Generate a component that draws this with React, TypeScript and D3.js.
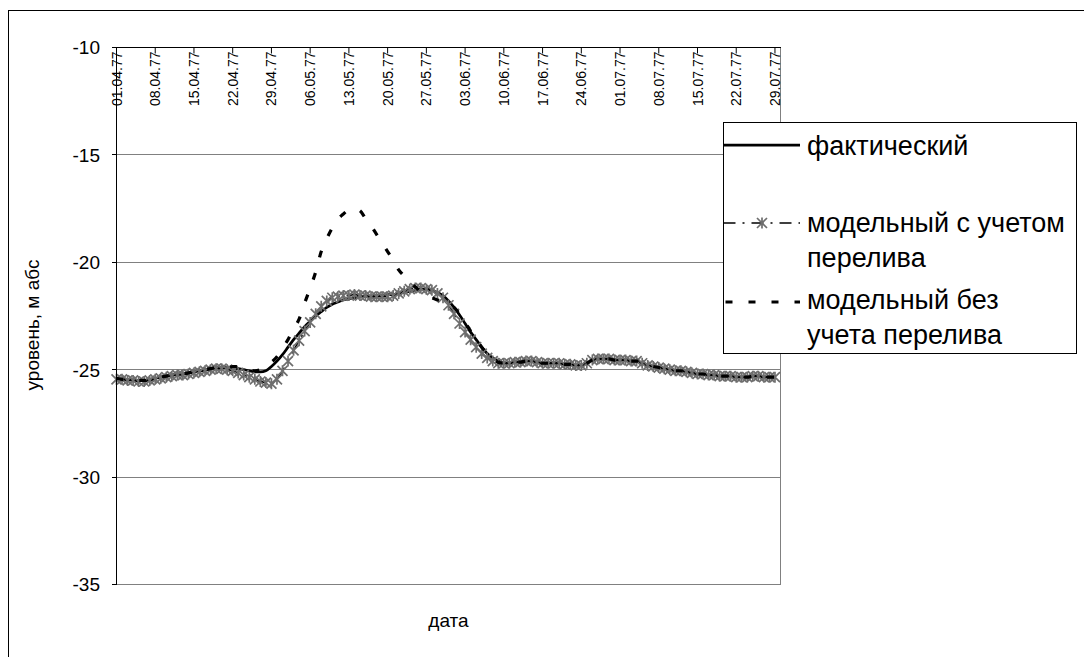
import React from "react";
import * as d3 from "d3";

// Weekly category labels along the top axis (daily data from 01.04.77)
const tickLabels = [
  "01.04.77", "08.04.77", "15.04.77", "22.04.77", "29.04.77", "06.05.77",
  "13.05.77", "20.05.77", "27.05.77", "03.06.77", "10.06.77", "17.06.77",
  "24.06.77", "01.07.77", "08.07.77", "15.07.77", "22.07.77", "29.07.77",
];

const yTicks = [-10, -15, -20, -25, -30, -35];

// фактический — daily level, m abs
const actual = [
  -25.4, -25.45, -25.45, -25.5, -25.5, -25.5, -25.45, -25.4, -25.35, -25.3,
  -25.25, -25.2, -25.2, -25.15, -25.1, -25.05, -25.0, -24.95, -24.9, -24.9,
  -24.9, -24.95, -24.95, -25.0, -25.05, -25.1, -25.1, -25.05, -24.85, -24.6,
  -24.3, -23.95, -23.6, -23.3, -23.0, -22.75, -22.5, -22.3, -22.1, -21.95,
  -21.85, -21.75, -21.7, -21.65, -21.6, -21.6, -21.6, -21.55, -21.55, -21.5,
  -21.5, -21.45, -21.4, -21.35, -21.3, -21.25, -21.25, -21.3, -21.4, -21.55,
  -21.8, -22.1, -22.45, -22.85, -23.25, -23.6, -23.95, -24.25, -24.45, -24.6,
  -24.7, -24.7, -24.65, -24.65, -24.6, -24.6, -24.65, -24.7, -24.7, -24.7,
  -24.7, -24.75, -24.75, -24.8, -24.8, -24.7, -24.55, -24.5, -24.5, -24.5,
  -24.55, -24.55, -24.55, -24.6, -24.6, -24.7, -24.8, -24.85, -24.9, -24.95,
  -25.0, -25.05, -25.05, -25.1, -25.15, -25.2, -25.2, -25.25, -25.25, -25.3,
  -25.3, -25.3, -25.35, -25.35, -25.35, -25.3, -25.3, -25.35, -25.35, -25.35,
];

// модельный с учетом перелива
const modelWithOverflow = [
  -25.45, -25.45, -25.5, -25.5, -25.55, -25.55, -25.5, -25.45, -25.4, -25.35,
  -25.3, -25.25, -25.25, -25.2, -25.15, -25.1, -25.05, -25.0, -24.95, -24.95,
  -25.0, -25.05, -25.15, -25.25, -25.35, -25.45, -25.55, -25.6, -25.65, -25.45,
  -25.05, -24.6, -24.1, -23.65, -23.2, -22.8, -22.4, -22.05, -21.8, -21.65,
  -21.6, -21.55, -21.55, -21.5, -21.55, -21.55, -21.6, -21.6, -21.6, -21.6,
  -21.55, -21.45, -21.35, -21.25, -21.2, -21.2, -21.25, -21.3, -21.45, -21.65,
  -22.0, -22.4, -22.85, -23.25, -23.6, -23.95, -24.25, -24.45, -24.6, -24.7,
  -24.7, -24.7, -24.65, -24.65, -24.6, -24.6, -24.65, -24.7, -24.7, -24.7,
  -24.7, -24.75, -24.75, -24.8, -24.8, -24.7, -24.55, -24.5, -24.5, -24.5,
  -24.55, -24.55, -24.55, -24.6, -24.6, -24.7, -24.8, -24.85, -24.9, -24.95,
  -25.0, -25.05, -25.05, -25.1, -25.15, -25.2, -25.2, -25.25, -25.25, -25.3,
  -25.3, -25.3, -25.35, -25.35, -25.35, -25.3, -25.3, -25.35, -25.35, -25.35,
];

// модельный без учета перелива
const modelWithoutOverflow = [
  -25.4, -25.45, -25.45, -25.5, -25.5, -25.5, -25.45, -25.4, -25.35, -25.3,
  -25.25, -25.2, -25.2, -25.15, -25.1, -25.05, -25.0, -24.95, -24.9, -24.9,
  -24.9, -24.85, -24.85, -24.9, -25.0, -25.05, -25.0, -24.85, -24.65, -24.4,
  -24.0, -23.6, -23.1, -22.65, -21.9, -21.2, -20.45, -19.5, -18.9, -18.4,
  -18.0, -17.75, -17.55, -17.5, -17.6, -17.95, -18.3, -18.7, -19.1, -19.5,
  -19.9, -20.35, -20.65, -20.95, -21.15, -21.35, -21.5, -21.65, -21.75, -21.85,
  -21.95, -22.1, -22.4, -22.8, -23.2, -23.6, -23.95, -24.25, -24.5, -24.65,
  -24.7, -24.7, -24.65, -24.65, -24.6, -24.6, -24.65, -24.7, -24.7, -24.7,
  -24.7, -24.75, -24.75, -24.8, -24.8, -24.7, -24.55, -24.5, -24.5, -24.5,
  -24.55, -24.55, -24.55, -24.6, -24.6, -24.7, -24.8, -24.85, -24.9, -24.95,
  -25.0, -25.05, -25.05, -25.1, -25.15, -25.2, -25.2, -25.25, -25.25, -25.3,
  -25.3, -25.3, -25.35, -25.35, -25.35, -25.3, -25.3, -25.35, -25.35, -25.35,
];

const W = 1084;
const H = 657;
const FONT = "'Liberation Sans', Arial, sans-serif";
const plot = { left: 116.5, right: 780.5, top: 47.5, bottom: 584.5 };

// asterisk marker: an X with a vertical bar
const starPath = "M-5,-5L5,5M-5,5L5,-5M0,-5.5L0,5.5";
const MARKER = "#6e6e6e";

export default function App() {
  const x = d3.scaleLinear().domain([0, 120]).range([plot.left, plot.right]);
  const y = d3.scaleLinear().domain([-35, -10]).range([plot.bottom, plot.top]);
  const line = d3
    .line<number>()
    .x((_, i) => x(i))
    .y((d) => y(d))
    .curve(d3.curveMonotoneX);

  const legendX = 723.5;
  const legendY = 122.5;

  return (
    <svg
      width={W}
      height={H}
      style={{ position: "absolute", left: 0, top: 0, background: "#fff" }}
      fontFamily={FONT}
    >
      {/* chart frame */}
      <rect x={8.5} y={10.5} width={1200} height={800} fill="#fff" stroke="#000" strokeWidth={1} />

      {/* plot area */}
      <rect
        x={plot.left}
        y={plot.top}
        width={plot.right - plot.left}
        height={plot.bottom - plot.top}
        fill="#fff"
        stroke="#808080"
        strokeWidth={1}
      />
      {yTicks.slice(1, -1).map((t) => (
        <line
          key={t}
          x1={plot.left}
          x2={plot.right}
          y1={y(t)}
          y2={y(t)}
          stroke="#808080"
          strokeWidth={1}
          shapeRendering="crispEdges"
        />
      ))}

      {/* series */}
      <path d={line(actual) ?? ""} fill="none" stroke="#000" strokeWidth={2.75} />
      <path
        d={line(modelWithOverflow) ?? ""}
        fill="none"
        stroke="#000"
        strokeWidth={1.5}
        strokeDasharray="12,7,2,7"
      />
      {modelWithOverflow.map((v, i) => (
        <path
          key={i}
          d={starPath}
          transform={`translate(${x(i)},${y(v)})`}
          fill="none"
          stroke={MARKER}
          strokeWidth={1.7}
        />
      ))}
      <path
        d={line(modelWithoutOverflow) ?? ""}
        fill="none"
        stroke="#000"
        strokeWidth={3.2}
        strokeDasharray="7,16"
      />

      {/* y axis */}
      <line x1={plot.left} x2={plot.left} y1={plot.top} y2={plot.bottom} stroke="#000" strokeWidth={1} shapeRendering="crispEdges" />
      {yTicks.map((t) => (
        <g key={t}>
          <line x1={plot.left - 5} x2={plot.left} y1={y(t)} y2={y(t)} stroke="#000" strokeWidth={1} shapeRendering="crispEdges" />
          <text x={100} y={y(t)} dy="0.36em" textAnchor="end" fontSize={19} fill="#000">
            {t}
          </text>
        </g>
      ))}

      {/* top category axis */}
      <line x1={plot.left} x2={plot.right} y1={plot.top} y2={plot.top} stroke="#000" strokeWidth={1} shapeRendering="crispEdges" />
      {tickLabels.map((lab, k) => {
        const tx = x(k * 7);
        return (
          <g key={lab}>
            <line x1={tx} x2={tx} y1={plot.top} y2={plot.top + 6} stroke="#000" strokeWidth={1} />
            <text
              transform={`translate(${tx + 5},${plot.top + 4}) rotate(-90)`}
              textAnchor="end"
              fontSize={14}
              fill="#000"
            >
              {lab}
            </text>
          </g>
        );
      })}

      {/* axis titles */}
      <text x={(plot.left + plot.right) / 2} y={627} textAnchor="middle" fontSize={19} fill="#000">
        дата
      </text>
      <text
        transform={`translate(39,325) rotate(-90)`}
        textAnchor="middle"
        fontSize={19}
        fill="#000"
      >
        уровень, м абс
      </text>

      {/* legend */}
      <rect x={legendX} y={legendY} width={353} height={231} fill="#fff" stroke="#000" strokeWidth={1} />
      <line x1={legendX} x2={800} y1={145} y2={145} stroke="#000" strokeWidth={2.75} />
      <text x={807} y={155} fontSize={27} fill="#000">фактический</text>

      <line x1={legendX} x2={800} y1={223} y2={223} stroke="#000" strokeWidth={1.5} strokeDasharray="12,7,2,7" />
      <path d={starPath} transform="translate(762,223)" fill="none" stroke={MARKER} strokeWidth={1.7} />
      <text x={807} y={232} fontSize={27} fill="#000">
        <tspan x={807}>модельный с учетом</tspan>
        <tspan x={807} dy={35}>перелива</tspan>
      </text>

      <line x1={legendX + 2} x2={800} y1={302} y2={302} stroke="#000" strokeWidth={3.2} strokeDasharray="7,16" />
      <text x={807} y={309} fontSize={27} fill="#000">
        <tspan x={807}>модельный без</tspan>
        <tspan x={807} dy={35}>учета перелива</tspan>
      </text>
    </svg>
  );
}
